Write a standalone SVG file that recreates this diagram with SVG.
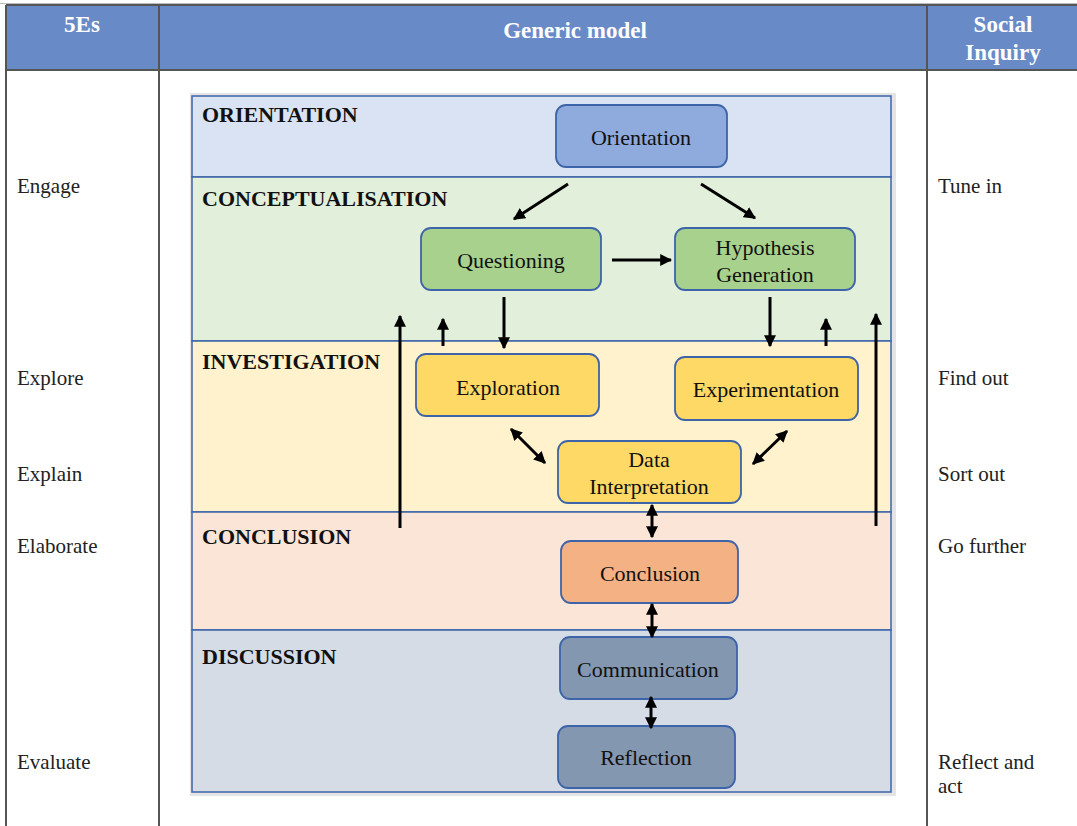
<svg xmlns="http://www.w3.org/2000/svg" width="1077" height="826" viewBox="0 0 1077 826">
  <defs>
    <marker id="ah" viewBox="0 0 10 10" refX="9" refY="5" markerWidth="4" markerHeight="4" orient="auto-start-reverse" markerUnits="strokeWidth">
      <path d="M0,0 L10,5 L0,10 z" fill="#000"/>
    </marker>
    <style>
      .hdr { font-family: "Liberation Serif", serif; font-weight: bold; font-size: 23px; fill: #fff; text-anchor: middle; }
      .col { font-family: "Liberation Serif", serif; font-size: 21px; fill: #222; }
      .band { font-family: "Liberation Serif", serif; font-weight: bold; font-size: 22px; fill: #111; }
      .lbl { font-family: "Liberation Serif", serif; font-size: 22px; fill: #111; text-anchor: middle; dominant-baseline: central; }
      .grid { stroke: #555; stroke-width: 2; fill: none; }
      .bandrect { stroke: #3d64a8; stroke-width: 1.5; }
      .node { stroke: #3d64a8; stroke-width: 1.8; }
      .arr { stroke: #000; stroke-width: 3; fill: none; marker-end: url(#ah); }
      .arr2 { stroke: #000; stroke-width: 3; fill: none; marker-end: url(#ah); marker-start: url(#ah); }
    </style>
  </defs>

  <rect width="1077" height="826" fill="#fff"/>

  <!-- table header -->
  <g id="table">
    <rect x="6" y="5" width="1071" height="65" fill="#688bc7"/>
    <line x1="0" y1="3.5" x2="1077" y2="3.5" stroke="#bbb" stroke-width="1"/>
    <line x1="6" y1="5" x2="1077" y2="5" class="grid"/>
    <line x1="6" y1="70" x2="1077" y2="70" class="grid"/>
    <line x1="6" y1="5" x2="6" y2="826" class="grid"/>
    <line x1="159" y1="5" x2="159" y2="826" class="grid"/>
    <line x1="927" y1="5" x2="927" y2="826" class="grid"/>
    <text class="hdr" x="82" y="32">5Es</text>
    <text class="hdr" x="575" y="38">Generic model</text>
    <text class="hdr" x="1003" y="32">Social</text>
    <text class="hdr" x="1003" y="60">Inquiry</text>
  </g>

  <!-- 5Es column -->
  <g id="col-5es">
    <text class="col" x="17" y="193">Engage</text>
    <text class="col" x="17" y="385">Explore</text>
    <text class="col" x="17" y="481">Explain</text>
    <text class="col" x="17" y="553">Elaborate</text>
    <text class="col" x="17" y="769">Evaluate</text>
  </g>

  <!-- Social Inquiry column -->
  <g id="col-social">
    <text class="col" x="938" y="193">Tune in</text>
    <text class="col" x="938" y="385">Find out</text>
    <text class="col" x="938" y="481">Sort out</text>
    <text class="col" x="938" y="553">Go further</text>
    <text class="col" x="938" y="769">Reflect and</text>
    <text class="col" x="938" y="793">act</text>
  </g>

  <!-- phase bands -->
  <g id="bands">
    <rect x="190" y="93" width="706" height="703" fill="#e4e4e4"/>
    <rect id="band-orientation" class="bandrect" x="192" y="96" width="699" height="81" fill="#dae3f3"/>
    <rect id="band-conceptualisation" class="bandrect" x="192" y="177" width="699" height="164" fill="#e2efda"/>
    <rect id="band-investigation" class="bandrect" x="192" y="341" width="699" height="171" fill="#fff2cc"/>
    <rect id="band-conclusion" class="bandrect" x="192" y="512" width="699" height="118" fill="#fbe5d6"/>
    <rect id="band-discussion" class="bandrect" x="192" y="630" width="699" height="162" fill="#d6dce5"/>
    <text class="band" x="202" y="122">ORIENTATION</text>
    <text class="band" x="202" y="206">CONCEPTUALISATION</text>
    <text class="band" x="202" y="369">INVESTIGATION</text>
    <text class="band" x="202" y="544">CONCLUSION</text>
    <text class="band" x="202" y="664">DISCUSSION</text>
  </g>

  <!-- nodes -->
  <g id="n-orientation">
    <rect class="node" x="556" y="105" width="171" height="62" rx="10" fill="#8faadc"/>
    <text class="lbl" x="641" y="137">Orientation</text>
  </g>
  <g id="n-questioning">
    <rect class="node" x="421" y="228" width="180" height="62" rx="10" fill="#a9d18e"/>
    <text class="lbl" x="511" y="260">Questioning</text>
  </g>
  <g id="n-hypothesis">
    <rect class="node" x="675" y="228" width="180" height="62" rx="10" fill="#a9d18e"/>
    <text class="lbl" x="765" y="247">Hypothesis</text>
    <text class="lbl" x="765" y="274">Generation</text>
  </g>
  <g id="n-exploration">
    <rect class="node" x="416" y="354" width="183" height="62" rx="10" fill="#ffd966"/>
    <text class="lbl" x="508" y="387">Exploration</text>
  </g>
  <g id="n-experimentation">
    <rect class="node" x="675" y="357" width="183" height="63" rx="10" fill="#ffd966"/>
    <text class="lbl" x="766" y="389">Experimentation</text>
  </g>
  <g id="n-data">
    <rect class="node" x="558" y="441" width="183" height="62" rx="10" fill="#ffd966"/>
    <text class="lbl" x="649" y="459">Data</text>
    <text class="lbl" x="649" y="486">Interpretation</text>
  </g>
  <g id="n-conclusion">
    <rect class="node" x="561" y="541" width="177" height="62" rx="10" fill="#f4b183"/>
    <text class="lbl" x="650" y="573">Conclusion</text>
  </g>
  <g id="n-communication">
    <rect class="node" x="560" y="637" width="177" height="62" rx="10" fill="#8497b0"/>
    <text class="lbl" x="648" y="669">Communication</text>
  </g>
  <g id="n-reflection">
    <rect class="node" x="558" y="726" width="177" height="62" rx="10" fill="#8497b0"/>
    <text class="lbl" x="646" y="757">Reflection</text>
  </g>

  <!-- connectors -->
  <g id="connectors">
    <line class="arr" x1="568" y1="184" x2="514" y2="219"/>
    <line class="arr" x1="701" y1="184" x2="755" y2="218"/>
    <line class="arr" x1="612" y1="260" x2="671" y2="260"/>
    <line class="arr" x1="504" y1="297" x2="504" y2="348"/>
    <line class="arr" x1="770" y1="297" x2="770" y2="346"/>
    <line class="arr" x1="443" y1="346" x2="443" y2="319"/>
    <line class="arr" x1="826" y1="346" x2="826" y2="319"/>
    <line class="arr" x1="400" y1="528" x2="400" y2="316"/>
    <line class="arr" x1="876" y1="526" x2="876" y2="314"/>
    <line class="arr2" x1="511" y1="429" x2="545" y2="463"/>
    <line class="arr2" x1="787" y1="431" x2="753" y2="464"/>
    <line class="arr2" x1="652" y1="505" x2="652" y2="537"/>
    <line class="arr2" x1="652" y1="604" x2="652" y2="637"/>
    <line class="arr2" x1="651" y1="697" x2="651" y2="728"/>
  </g>
</svg>
